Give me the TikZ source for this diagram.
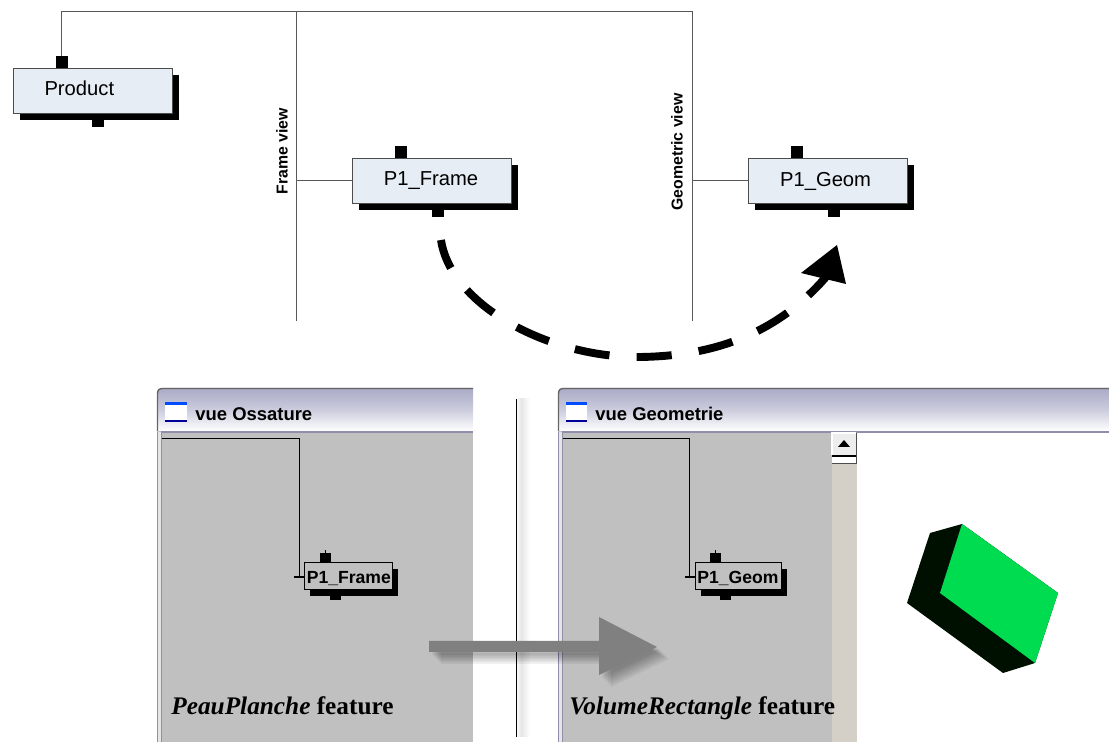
\documentclass[tikz,border=0pt]{standalone}
\usepackage{fontspec}
\setmainfont{Liberation Serif}
\setsansfont{Liberation Sans}
\definecolor{boxfill}{HTML}{E6EDF5}
\definecolor{panelgray}{HTML}{C0C0C0}
\definecolor{barbeige}{HTML}{D4D0C8}
\definecolor{titletop}{HTML}{A9AAC6}
\definecolor{frameblue}{HTML}{8F8FAB}
\definecolor{arrowgray}{HTML}{808080}
\definecolor{cubegreen}{HTML}{00DC50}
\definecolor{cubedark}{HTML}{001000}
\tikzset{
    entity/.style={draw=black!70, fill=boxfill, minimum width=159*0.02cm, minimum height=45*0.02cm, inner sep=0pt, font=\sffamily\fontsize{11.5}{12}\selectfont},
    tab/.style={fill=black, inner sep=0pt, minimum width=12*0.02cm, minimum height=12*0.02cm},
    smalltab/.style={fill=black, inner sep=0pt, minimum width=11*0.02cm, minimum height=10*0.02cm},
    smallentity/.style={draw=black, fill=panelgray, inner sep=0pt, minimum height=27*0.02cm, font=\sffamily\bfseries\fontsize{10}{10}\selectfont},
    viewlabel/.style={rotate=90, font=\sffamily\bfseries\fontsize{9}{9}\selectfont, inner sep=0pt},
    wintitle/.style={font=\sffamily\bfseries\fontsize{10.5}{10}\selectfont, anchor=west, inner sep=0pt},
    featurelabel/.style={font=\bfseries\fontsize{14.4}{14}\selectfont, anchor=base west, inner sep=0pt},
    treeline/.style={draw=black!65, line width=0.5pt},
    smallline/.style={draw=black, line width=0.7pt}
}
\begin{document}
\begin{tikzpicture}[x=0.02cm, y=-0.02cm]
    \useasboundingbox (0,0) rectangle (1109,742);
    % top tree
    \coordinate (rootL) at (61.5,11.5);
    \coordinate (rootR) at (692.5,11.5);
    \coordinate (frameT) at (296.5,11.5);
    \coordinate (frameB) at (296.5,321);
    \coordinate (geomB) at (692.5,321);
    \fill (20,75) rectangle (179,120);
    \fill (359,165) rectangle (518,210);
    \fill (755,165) rectangle (914,210);
    \node[tab] (prodTop) at (62,62) {};
    \node[tab] (prodBot) at (98,121) {};
    \node[tab] (frameTop) at (401,152) {};
    \node[tab] (frameBot) at (438,211) {};
    \node[tab] (geomTop) at (797,152) {};
    \node[tab] (geomBot) at (834,211) {};
    \node[entity] (product) at (92.5,90.5) {\hspace*{-15pt}\raisebox{-2.7pt}[0pt][0pt]{Product}};
    \node[entity] (frame) at (431.5,181) {\hspace*{-0.6pt}P1\_Frame};
    \node[entity] (geom) at (827.5,181) {\hspace*{-2.2pt}P1\_Geom};
    \draw[treeline] (rootL |- prodTop.north) -- (rootL) -- (rootR) -- (geomB);
    \draw[treeline] (frameT) -- (frameB);
    \coordinate (frameJ) at (296.5,180.5);
    \coordinate (geomJ) at (692.5,180.5);
    \draw[treeline] (frameJ) -- (frameJ -| frame.west);
    \draw[treeline] (geomJ) -- (geomJ -| geom.west);
    \node[viewlabel] (frameview) at (282,151) {Frame view};
    \node[viewlabel] (geomview) at (677,152) {Geometric view};
    % big dashed arrow
    \coordinate (arcS) at (441,240);
    \coordinate (arcM) at (640,357);
    \coordinate (arcE) at (826,277);
    \coordinate (tipA) at (837,245);
    \coordinate (tipB) at (801,273);
    \coordinate (tipC) at (846,284);
    \draw[line width=4.5pt, dash pattern=on 20pt off 15.5pt, dash phase=3pt] (arcS) .. controls (451,306) and (550,358) .. (arcM) .. controls (720,356) and (780,330) .. (arcE);
    \fill (tipA) -- (tipB) -- (tipC) -- cycle;
    % left window
    \shade[top color=titletop, bottom color=white, middle color=titletop!60!white] (157,431) -- (157,394) .. controls (157,390) and (159,388) .. (163,388) -- (473,388) -- (473,431) -- cycle;
    \fill[panelgray] (157,431) rectangle (473,742);
    \fill[black!10] (157,432) rectangle (161,742);
    \draw[frameblue, line width=0.7pt] (157.5,742) -- (157.5,432);
    \draw[frameblue, line width=0.7pt] (161.5,742) -- (161.5,432) -- (473,432);
    \draw[black!60, line width=0.8pt] (157.5,431) -- (157.5,394) .. controls (157.5,390) and (159,388.5) .. (163,388.5) -- (473,388.5);
    \fill[white] (165,402) rectangle (187,421);
    \fill[blue!70!cyan] (165,402) rectangle (187,405);
    \draw[blue!60!black, line width=0.6pt] (165,421) -- (187,421);
    \node[wintitle] (titleL) at (195,414) {vue Ossature};
    \coordinate (treeLA) at (162,438.5);
    \coordinate (treeLB) at (299.5,438.5);
    \coordinate (treeLC) at (299.5,577);
    \draw[smallline] (treeLA) -- (treeLB) -- (treeLC);
    \fill (310,569) rectangle (398,596);
    \node[smalltab] (smallBotL) at (335.5,595) {};
    \node[smalltab] (smallTopL) at (325.5,558) {};
    \node[smallentity, minimum width=88*0.02cm] (smallframe) at (348,575.5) {\hspace*{1pt}\raisebox{-4.4pt}[0pt][0pt]{P1\_Frame}};
    \draw[smallline] (smallTopL.north) -- +(0,-3);
    \draw[smallline] (smallframe.west |- treeLC) -- +(-10,0);
    \node[featurelabel] (featL) at (171,715) {\textit{PeauPlanche} feature};
    % right window
    \shade[top color=titletop, bottom color=white, middle color=titletop!60!white] (558,431) -- (558,394) .. controls (558,390) and (560,388) .. (564,388) -- (1109,388) -- (1109,431) -- cycle;
    \fill[panelgray] (558,431) rectangle (832,742);
    \fill[barbeige] (832,431) rectangle (857,742);
    \fill[black!10] (558,432) rectangle (562,742);
    \draw[frameblue, line width=0.7pt] (558.5,742) -- (558.5,432);
    \draw[frameblue, line width=0.7pt] (562.5,742) -- (562.5,432) -- (1109,432);
    \draw[black!60, line width=0.8pt] (558.5,431) -- (558.5,394) .. controls (558.5,390) and (560,388.5) .. (564,388.5) -- (1109,388.5);
    \fill[black!7] (832,433) rectangle (856,455);
    \draw[white, line width=0.6pt] (832,455) -- (832,433) -- (856,433);
    \draw[black!70, line width=0.6pt] (856.5,433) -- (856.5,464);
    \draw[black, line width=0.7pt] (832,456) -- (856,456);
    \fill[white] (832,457) rectangle (856,463);
    \draw[black!70, line width=0.7pt] (832,463.5) -- (856,463.5);
    \fill (844,440) -- (838,447) -- (850,447) -- cycle;
    \fill[white] (566,402) rectangle (587,421);
    \fill[blue!70!cyan] (566,402) rectangle (587,405);
    \draw[blue!60!black, line width=0.6pt] (566,421) -- (587,421);
    \node[wintitle] (titleR) at (595,414) {vue Geometrie};
    \coordinate (treeRA) at (563,438.5);
    \coordinate (treeRB) at (689.5,438.5);
    \coordinate (treeRC) at (689.5,577);
    \draw[smallline] (treeRA) -- (treeRB) -- (treeRC);
    \fill (701,569) rectangle (787,596);
    \node[smalltab] (smallBotR) at (725.5,595) {};
    \node[smalltab] (smallTopR) at (715.5,558) {};
    \node[smallentity, minimum width=86*0.02cm] (smallgeom) at (738,575.5) {\raisebox{-4.4pt}[0pt][0pt]{P1\_Geom}};
    \draw[smallline] (smallTopR.north) -- +(0,-3);
    \draw[smallline] (smallgeom.west |- treeRC) -- +(-10,0);
    \node[featurelabel] (featR) at (569,715) {\textit{VolumeRectangle} feature};
    % cube
    \fill[cubedark] (930,533) -- (962,524) -- (1058,593) -- (1035,663) -- (1003,673) -- (907,603) -- cycle;
    \fill[cubegreen] (962,524) -- (1058,593) -- (1035,663) -- (940,593) -- cycle;
    % separator and grey arrow
    \shade[left color=white, right color=black!10] (516,399) rectangle (521,737);
    \shade[left color=black!10, right color=white] (521,399) rectangle (530,737);
    \draw[black, line width=0.5pt] (516,399) -- (516,737);
    \foreach \d in {3,4.5,...,13} {
        \fill[black, opacity=0.05, shift={(\d,\d)}] (429,641) -- (599,641) -- (599,617) -- (657,647) -- (599,675) -- (599,652) -- (429,652) -- cycle;
    }
    \fill[arrowgray] (429,641) -- (599,641) -- (599,617) -- (657,647) -- (599,675) -- (599,652) -- (429,652) -- cycle;
\end{tikzpicture}
\end{document}
